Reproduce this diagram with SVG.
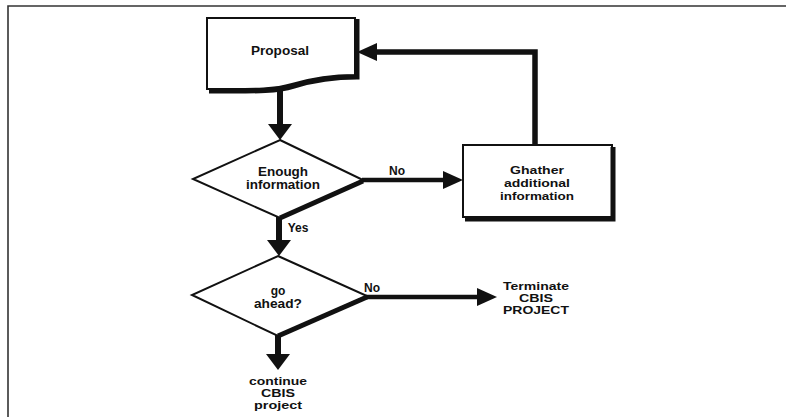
<svg xmlns="http://www.w3.org/2000/svg" width="786" height="417" viewBox="0 0 786 417">
  <style>
    .shape { fill: #fff; stroke: #111; stroke-width: 2; stroke-linejoin: miter; }
    .shadow { fill: none; stroke: #111; stroke-width: 5; stroke-linejoin: miter; }
    .conn { fill: none; stroke: #111; }
    .lbl { font-family: "Liberation Sans", Arial, Helvetica, sans-serif; font-weight: bold; font-size: 12px; text-anchor: middle; fill: #111; }
    .sm { font-size: 11px; }
    .frame { fill: none; stroke: #333; stroke-width: 1.6; }
  </style>
  <defs>
    <marker id="headV" markerUnits="userSpaceOnUse" markerWidth="16" markerHeight="24" refX="8" refY="12" orient="auto">
      <path d="M0,0 L16,12 L0,24 Z" fill="#111"/>
    </marker>
    <marker id="headH" markerUnits="userSpaceOnUse" markerWidth="20" markerHeight="18" refX="10" refY="9" orient="auto">
      <path d="M0,0 L20,9 L0,18 Z" fill="#111"/>
    </marker>
  </defs>

  <path class="frame" d="M786,6 H8 V417"/>

  <g id="connectors">
    <line class="conn" x1="280" y1="86" x2="280" y2="132" stroke-width="6" marker-end="url(#headV)"/>
    <line class="conn" x1="279" y1="216" x2="279" y2="248" stroke-width="6" marker-end="url(#headV)"/>
    <line class="conn" x1="278" y1="334" x2="278" y2="362" stroke-width="6" marker-end="url(#headV)"/>
    <line class="conn" x1="362" y1="180" x2="453" y2="180" stroke-width="4.5" marker-end="url(#headH)"/>
    <path class="conn" d="M366,297 H487" stroke-width="4.5" marker-end="url(#headH)"/>
    <path class="conn" d="M535,145 V52 H367" stroke-width="5.5" marker-end="url(#headH)"/>
  </g>

  <g id="proposal">
    <path class="shape" d="M207,18 H355 V75 C330,75 312,78 292,84 C272,90 250,89 207,89 Z"/>
    <path class="shadow" d="M357,19 V77 C332,77 314,80 294,86 C274,92 252,91 209,91"/>
    <text class="lbl" x="280" y="55" style="font-size:13px" textLength="58" lengthAdjust="spacingAndGlyphs">Proposal</text>
  </g>

  <g id="enough-information">
    <path class="shape" d="M280,140 L363,180 L280,218 L193,179 Z"/>
    <line class="shadow" x1="363" y1="181" x2="280" y2="218" stroke-width="6"/>
    <text class="lbl" x="283" y="176" textLength="50" lengthAdjust="spacingAndGlyphs">Enough</text>
    <text class="lbl" x="283" y="189" textLength="74" lengthAdjust="spacingAndGlyphs">information</text>
  </g>

  <g id="gather-info">
    <rect class="shape" x="463" y="145" width="149" height="72"/>
    <path class="shadow" d="M613,147 V219 H465"/>
    <text class="lbl sm" x="537" y="174" textLength="54" lengthAdjust="spacingAndGlyphs">Ghather</text>
    <text class="lbl sm" x="537" y="187" textLength="66" lengthAdjust="spacingAndGlyphs">additional</text>
    <text class="lbl sm" x="537" y="200" textLength="74" lengthAdjust="spacingAndGlyphs">information</text>
  </g>

  <g id="go-ahead">
    <path class="shape" d="M278,256 L367,296 L278,336 L192,295 Z"/>
    <line class="shadow" x1="367" y1="297" x2="278" y2="336" stroke-width="6"/>
    <text class="lbl" x="278" y="295">go</text>
    <text class="lbl" x="278" y="308" textLength="48" lengthAdjust="spacingAndGlyphs">ahead?</text>
  </g>

  <g id="terminate">
    <text class="lbl sm" x="536" y="290" textLength="66" lengthAdjust="spacingAndGlyphs">Terminate</text>
    <text class="lbl sm" x="536" y="302" textLength="34" lengthAdjust="spacingAndGlyphs">CBIS</text>
    <text class="lbl sm" x="536" y="314" textLength="66" lengthAdjust="spacingAndGlyphs">PROJECT</text>
  </g>

  <g id="continue">
    <text class="lbl sm" x="278" y="385" textLength="58" lengthAdjust="spacingAndGlyphs">continue</text>
    <text class="lbl sm" x="278" y="397" textLength="34" lengthAdjust="spacingAndGlyphs">CBIS</text>
    <text class="lbl sm" x="278" y="409" textLength="48" lengthAdjust="spacingAndGlyphs">project</text>
  </g>

  <g id="labels">
    <text class="lbl" x="397" y="175">No</text>
    <text class="lbl" x="298" y="232">Yes</text>
    <text class="lbl" x="372" y="292">No</text>
  </g>
</svg>
